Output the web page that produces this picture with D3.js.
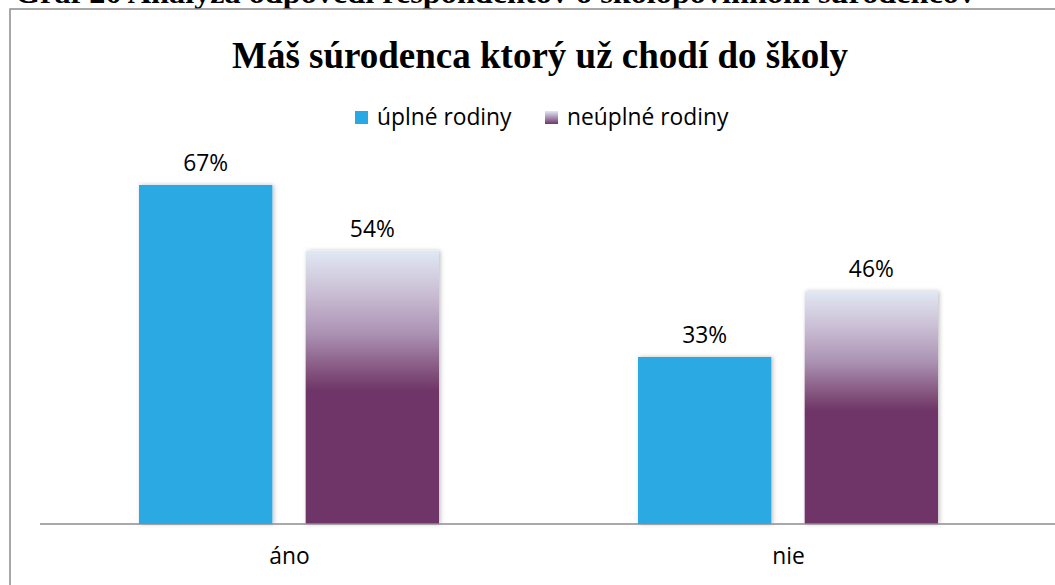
<!DOCTYPE html>
<html><head><meta charset="utf-8">
<script src="https://cdn.jsdelivr.net/npm/d3@7/dist/d3.min.js"></script>
<style>body{margin:0;background:#fff;}svg{display:block;}</style>
</head><body>
<svg id="c" width="1055" height="585"></svg>
<script>
const captionText = "Graf 20 Analýza odpovedí respondentov o školopovinnom súrodencov";
const titleText = "Máš súrodenca ktorý už chodí do školy";
const categories = ["áno", "nie"];
const seriesNames = ["úplné rodiny", "neúplné rodiny"];
const uplne = [67, 33];
const neuplne = [54, 46];
const seriesValues = [uplne, neuplne];

const svg = d3.select("#c");
const W = 1055, H = 585;
const sans = "'Open Sans', Lato, sans-serif";
const fs = 22.8;

const defs = svg.append("defs");
const grad = defs.append("linearGradient").attr("id","pg").attr("x1",0).attr("y1",0).attr("x2",0).attr("y2",1);
[[0,"#e1e8f4"],[0.15,"#cbbfd5"],[0.3,"#ac93b4"],[0.42,"#8a5d86"],[0.51,"#6f3667"],[1,"#6f3667"]]
  .forEach(([o,c])=>grad.append("stop").attr("offset",o).attr("stop-color",c));
const lg = defs.append("linearGradient").attr("id","lgp").attr("x1",0).attr("y1",0).attr("x2",0).attr("y2",1);
[[0,"#e1e8f4"],[0.5,"#a98fb2"],[1,"#6f3667"]].forEach(([o,c])=>lg.append("stop").attr("offset",o).attr("stop-color",c));
const f = defs.append("filter").attr("id","sh").attr("x","-10%").attr("y","-5%").attr("width","120%").attr("height","110%");
f.append("feDropShadow").attr("dx",1.5).attr("dy",0).attr("stdDeviation",2).attr("flood-color","#000").attr("flood-opacity",0.25);

svg.append("rect").attr("width",W).attr("height",H).attr("fill","#fff");

// caption (cut off at top, as in the source)
svg.append("text").attr("x",15).attr("y",3).attr("textLength",960).attr("lengthAdjust","spacingAndGlyphs")
  .attr("font-family","'Liberation Serif', 'Times New Roman', serif").attr("font-weight","bold").attr("font-size",30)
  .attr("fill","#000").text(captionText);

// frame
svg.append("rect").attr("x",10).attr("y",9).attr("width",W+20).attr("height",H+20)
  .attr("fill","none").attr("stroke","#8c8c8c").attr("stroke-width",1.5);

// title
svg.append("text").attr("x",540).attr("y",68).attr("text-anchor","middle")
  .attr("font-family","'Liberation Serif', 'Times New Roman', serif").attr("font-weight","bold").attr("font-size",37)
  .attr("fill","#000").text(titleText);

// legend
const legX = [355, 545];
seriesNames.forEach((n,i)=>{
  svg.append("rect").attr("x",legX[i]).attr("y",111).attr("width",13).attr("height",13)
    .attr("fill", i===0 ? "#29a9e3" : "url(#lgp)");
  svg.append("text").attr("x",legX[i]+22).attr("y",125).attr("font-family",sans).attr("font-size",fs)
    .attr("fill","#000").text(n);
});

const x0 = d3.scaleBand().domain(categories).range([40,1038]).paddingInner(0).paddingOuter(0);
const x1 = d3.scaleBand().domain(seriesNames).range([99,399]).paddingInner(0.2).paddingOuter(0);
const y = d3.scaleLinear().domain([0,100]).range([524,18]);

categories.forEach((c,ci)=>{
  const g = svg.append("g").attr("transform",`translate(${x0(c)},0)`);
  seriesNames.forEach((s,si)=>{
    const v = seriesValues[si][ci];
    g.append("rect").attr("x",x1(s)).attr("y",y(v)).attr("width",x1.bandwidth()).attr("height",y(0)-y(v))
      .attr("fill", si===0 ? "#29a9e3" : "url(#pg)").attr("filter","url(#sh)");
    g.append("text").attr("x",x1(s)+x1.bandwidth()/2).attr("y",y(v)-14).attr("text-anchor","middle")
      .attr("font-family",sans).attr("font-size",fs).attr("fill","#000").text(v+"%");
  });
});

// axis
const ax = svg.append("g").attr("transform",`translate(0,${y(0)})`)
  .call(d3.axisBottom(x0).tickSize(0).tickPadding(0));
ax.select(".domain").attr("d",`M40,0H${W+10}`).attr("stroke","#8c8c8c").attr("stroke-width",1.5);
ax.selectAll("text").attr("font-family",sans).attr("font-size",fs).attr("fill","#000").attr("dy",null).attr("y",40);
</script>
</body></html>
